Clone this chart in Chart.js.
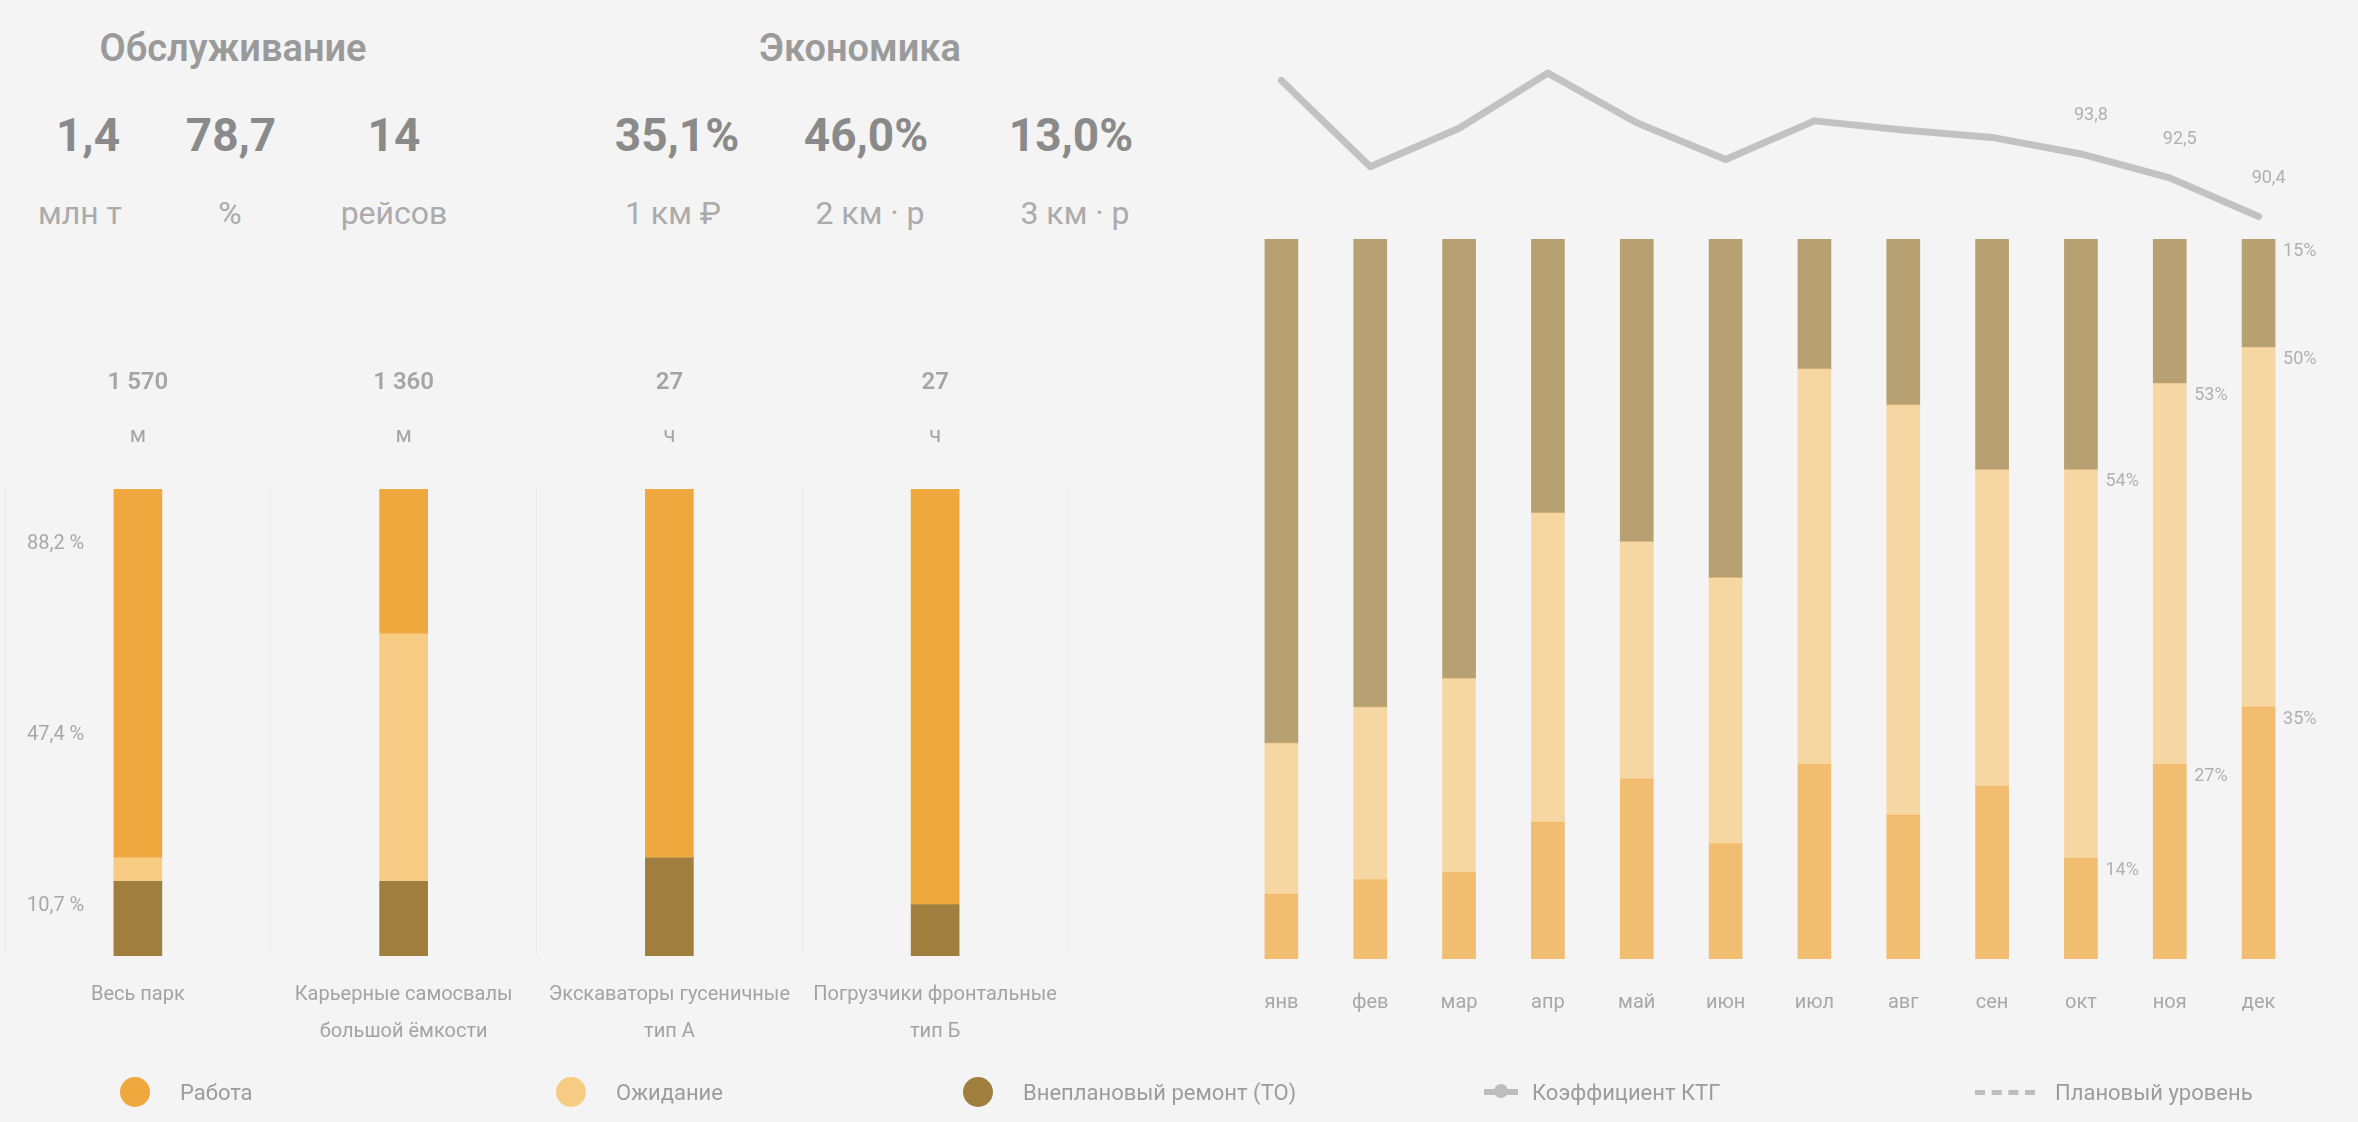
<!DOCTYPE html>
<html lang="ru">
<head>
<meta charset="utf-8">
<script src="https://cdn.jsdelivr.net/npm/chart.js@4.4.1/dist/chart.umd.min.js"></script>
<style>
html, body { margin: 0; padding: 0; background: #f4f4f4; font-family: Roboto, "Noto Sans", sans-serif; }
#wrap { position: relative; width: 2358px; height: 1122px; overflow: hidden; }
.t { position: absolute; transform: translateX(-50%); white-space: nowrap; line-height: 1; }
.title { font-size: 38px; font-weight: 600; color: #9a9a9a; }
.kpi { font-size: 46px; font-weight: 700; color: #8a8a8a; }
.sub { font-size: 32px; color: #ababab; }
.box { position: absolute; }
.leg { position: absolute; top: 1078px; height: 28px; display: flex; align-items: center; font-size: 22px; color: #9c9c9c; white-space: nowrap; }
.dot { width: 30px; height: 30px; border-radius: 50%; margin-right: 30px; }
.lineIcon { width: 34px; height: 6px; background: #bdbdbd; margin-right: 14px; position: relative; }
.lineIcon:after { content: ""; position: absolute; left: 10px; top: -5px; width: 14px; height: 14px; border-radius: 50%; background: #bdbdbd; }
.dashIcon { width: 60px; height: 0; border-top: 5px dashed #bdbdbd; margin-right: 20px; }
</style>
</head>
<body>
<div id="wrap">
  <div class="t title" style="left:233px;top:29px">Обслуживание</div>
  <div class="t title" style="left:860px;top:29px">Экономика</div>

  <div class="t kpi" style="left:88px;top:112px">1,4</div>
  <div class="t kpi" style="left:231px;top:112px">78,7</div>
  <div class="t kpi" style="left:394px;top:112px">14</div>
  <div class="t sub" style="left:80px;top:197px">млн т</div>
  <div class="t sub" style="left:230px;top:197px">%</div>
  <div class="t sub" style="left:394px;top:197px">рейсов</div>

  <div class="t kpi" style="left:677px;top:112px">35,1%</div>
  <div class="t kpi" style="left:866px;top:112px">46,0%</div>
  <div class="t kpi" style="left:1071px;top:112px">13,0%</div>
  <div class="t sub" style="left:673px;top:197px">1 км ₽</div>
  <div class="t sub" style="left:870px;top:197px">2 км · р</div>
  <div class="t sub" style="left:1075px;top:197px">3 км · р</div>

  <div class="box" style="left:0;top:330px;width:1090px;height:752px"><canvas id="left"></canvas></div>
  <div class="box" style="left:1200px;top:0;width:1158px;height:1060px"><canvas id="right"></canvas></div>

  <div class="leg" style="left:120px"><div class="dot" style="background:#eea83e"></div>Работа</div>
  <div class="leg" style="left:556px"><div class="dot" style="background:#f6cc84"></div>Ожидание</div>
  <div class="leg" style="left:963px"><div class="dot" style="background:#a07f3e"></div>Внеплановый ремонт (ТО)</div>
  <div class="leg" style="left:1484px"><div class="lineIcon"></div>Коэффициент КТГ</div>
  <div class="leg" style="left:1975px"><div class="dashIcon"></div>Плановый уровень</div>
</div>
<script>
// левая диаграмма: структура времени по типам техники, %
const leftCategories = ['Весь парк', ['Карьерные самосвалы', 'большой ёмкости'], ['Экскаваторы гусеничные', 'тип А'], ['Погрузчики фронтальные', 'тип Б']];
const leftWork = [79, 31, 79, 89];
const leftWait = [5, 53, 0, 0];
const leftRepair = [16, 16, 21, 11];
const leftTotals = ['1 570', '1 360', '27', '27'];
const leftUnits = ['м', 'м', 'ч', 'ч'];
const leftTickValues = [10.7, 47.4, 88.2];
const leftTickLabels = ['10,7 %', '47,4 %', '88,2 %'];

// правая диаграмма: помесячно
const months = ['янв', 'фев', 'мар', 'апр', 'май', 'июн', 'июл', 'авг', 'сен', 'окт', 'ноя', 'дек'];
const rightWork = [9, 11, 12, 19, 25, 16, 27, 20, 24, 14, 27, 35];
const rightWait = [21, 24, 27, 43, 33, 37, 55, 57, 44, 54, 53, 50];
const rightRepair = [70, 65, 61, 38, 42, 47, 18, 23, 32, 32, 20, 15];
const ktg = [97.8, 93.1, 95.2, 98.2, 95.5, 93.5, 95.6, 95.1, 94.7, 93.8, 92.5, 90.4];

const fmt = v => String(v).replace('.', ',');

// подписи над столбцами слева
const topLabels = {
    id: 'topLabels',
    afterDatasetsDraw(chart) {
        const ctx = chart.ctx;
        const meta = chart.getDatasetMeta(chart.data.datasets.length - 1);
        ctx.save();
        ctx.fillStyle = '#a5a5a5';
        ctx.textAlign = 'center';
        ctx.textBaseline = 'middle';
        meta.data.forEach((bar, i) => {
            ctx.font = '600 24px Roboto';
            ctx.fillText(leftTotals[i], bar.x, 53);
            ctx.font = '22px Roboto';
            ctx.fillText(leftUnits[i], bar.x, 106);
        });
        ctx.restore();
    }
};

// подписи справа от последних столбцов и над линией
const rightLabels = {
    id: 'rightLabels',
    afterDatasetsDraw(chart) {
        const ctx = chart.ctx;
        ctx.save();
        ctx.fillStyle = '#b0b0b0';
        ctx.font = '18px Roboto';
        ctx.textBaseline = 'middle';
        ctx.textAlign = 'left';
        const last = months.length - 1;
        [last - 2, last - 1, last].forEach(i => {
            const segs = [[0, rightWork], [1, rightWait]];
            if (i === last) segs.push([2, rightRepair]);
            segs.forEach(([d, arr]) => {
                const bar = chart.getDatasetMeta(d).data[i];
                ctx.fillText(arr[i] + '%', bar.x + bar.width / 2 + 8, bar.y + 12);
            });
            const pt = chart.getDatasetMeta(3).data[i];
            ctx.textAlign = 'center';
            ctx.fillText(fmt(ktg[i]), pt.x + 10, pt.y - 38);
            ctx.textAlign = 'left';
        });
        ctx.restore();
    }
};

new Chart(document.getElementById('left'), {
    type: 'bar',
    data: {
        labels: leftCategories,
        datasets: [
            { label: 'Ремонт', data: leftRepair, backgroundColor: '#a07f3e' },
            { label: 'Ожидание', data: leftWait, backgroundColor: '#f6cc84' },
            { label: 'Работа', data: leftWork, backgroundColor: '#eea83e' }
        ]
    },
    options: {
        responsive: true,
        maintainAspectRatio: false,
        animation: false,
        layout: { padding: { left: 5, right: 22, top: 159, bottom: 12 } },
        datasets: { bar: { barThickness: 48, borderWidth: 0 } },
        plugins: { legend: { display: false }, tooltip: { enabled: false } },
        scales: {
            x: {
                stacked: true,
                grid: { display: true, offset: true, color: 'rgba(0,0,0,0.035)', drawTicks: false },
                border: { display: false },
                ticks: { color: '#a3a3a3', font: { size: 20, family: 'Roboto', lineHeight: 1.85 }, padding: 20, maxRotation: 0, autoSkip: false }
            },
            y: {
                stacked: true,
                min: 0,
                max: 100,
                grid: { display: false },
                border: { display: false },
                afterFit: scale => { scale.width = 0; },
                afterBuildTicks: scale => { scale.ticks = leftTickValues.map(v => ({ value: v })); },
                ticks: {
                    mirror: true,
                    padding: 22,
                    color: '#a8a8a8',
                    font: { size: 20, family: 'Roboto' },
                    callback: (v, i) => leftTickLabels[i]
                }
            }
        }
    },
    plugins: [topLabels]
});

new Chart(document.getElementById('right'), {
    data: {
        labels: months,
        datasets: [
            { type: 'bar', label: 'Работа', data: rightWork, backgroundColor: 'rgba(238,168,62,0.72)', yAxisID: 'y' },
            { type: 'bar', label: 'Ожидание', data: rightWait, backgroundColor: 'rgba(246,204,132,0.72)', yAxisID: 'y' },
            { type: 'bar', label: 'Ремонт', data: rightRepair, backgroundColor: 'rgba(160,127,62,0.72)', yAxisID: 'y' },
            { type: 'line', label: 'КТГ', data: ktg, borderColor: '#c2c2c2', borderWidth: 7, pointRadius: 0, tension: 0, yAxisID: 'y2', borderJoinStyle: 'round', borderCapStyle: 'round' }
        ]
    },
    options: {
        responsive: true,
        maintainAspectRatio: false,
        animation: false,
        layout: { padding: { left: 37, right: 55, top: 40, bottom: 21 } },
        datasets: { bar: { barThickness: 33, borderWidth: 0 } },
        plugins: { legend: { display: false }, tooltip: { enabled: false } },
        scales: {
            x: {
                stacked: true,
                grid: { display: false },
                border: { display: false },
                ticks: { color: '#a8a8a8', font: { size: 20, family: 'Roboto' }, padding: 24, maxRotation: 0, autoSkip: false }
            },
            y: { stacked: true, min: 0, max: 127.7, display: false },
            y2: { min: 50, max: 100, display: false }
        }
    },
    plugins: [rightLabels]
});
</script>
</body>
</html>
